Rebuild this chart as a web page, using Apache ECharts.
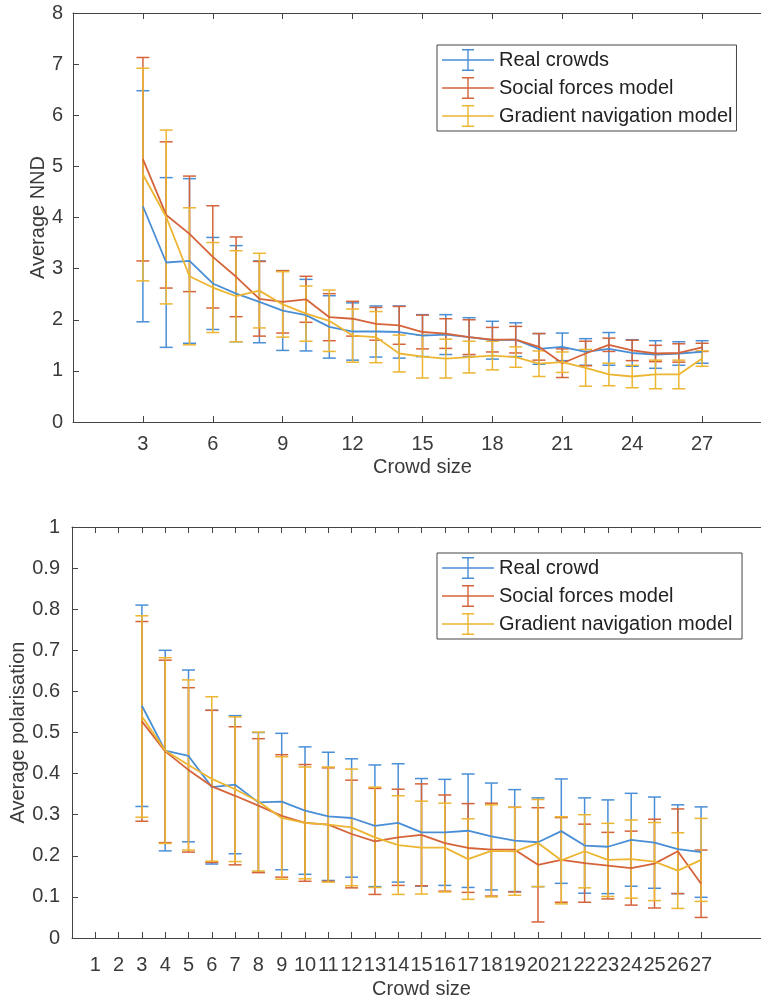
<!DOCTYPE html>
<html>
<head>
<meta charset="utf-8">
<script src="https://cdn.jsdelivr.net/npm/echarts@6/dist/echarts.min.js"></script>
<style>
  html, body { margin: 0; padding: 0; background: #fff; }
  #main { width: 761px; height: 1001px; }
</style>
</head>
<body>
<div id="main"></div>
<script>
// crowd sizes on the x axis
var crowdSize = [3, 4, 5, 6, 7, 8, 9, 10, 11, 12, 13, 14, 15, 16, 17, 18, 19, 20, 21, 22, 23, 24, 25, 26, 27];
var nndTicks = [3, 6, 9, 12, 15, 18, 21, 24, 27];
var polTicks = [1, 2, 3, 4, 5, 6, 7, 8, 9, 10, 11, 12, 13, 14, 15, 16, 17, 18, 19, 20, 21, 22, 23, 24, 25, 26, 27];

// Average NND (mean +- error)
var nndReal = [4.22, 3.12, 3.15, 2.71, 2.51, 2.35, 2.18, 2.09, 1.86, 1.77, 1.77, 1.76, 1.69, 1.71, 1.66, 1.60, 1.61, 1.43, 1.47, 1.37, 1.43, 1.35, 1.32, 1.34, 1.37];
var nndRealErr = [2.26, 1.66, 1.61, 0.90, 0.94, 0.80, 0.78, 0.70, 0.61, 0.56, 0.50, 0.51, 0.41, 0.39, 0.38, 0.37, 0.33, 0.30, 0.27, 0.26, 0.32, 0.26, 0.27, 0.23, 0.22];
var nndSocial = [5.14, 4.05, 3.68, 3.23, 2.84, 2.41, 2.35, 2.40, 2.05, 2.02, 1.92, 1.89, 1.76, 1.73, 1.66, 1.61, 1.61, 1.47, 1.15, 1.34, 1.51, 1.40, 1.34, 1.35, 1.46];
var nndSocialErr = [1.99, 1.43, 1.13, 1.00, 0.78, 0.73, 0.61, 0.45, 0.46, 0.34, 0.32, 0.37, 0.33, 0.29, 0.34, 0.24, 0.26, 0.26, 0.28, 0.24, 0.13, 0.20, 0.16, 0.18, 0.08];
var nndGradient = [4.84, 4.01, 2.85, 2.63, 2.46, 2.57, 2.30, 2.12, 1.98, 1.69, 1.66, 1.34, 1.28, 1.24, 1.27, 1.30, 1.27, 1.14, 1.17, 1.06, 0.93, 0.89, 0.93, 0.93, 1.24];
var nndGradientErr = [2.08, 1.70, 1.34, 0.88, 0.89, 0.73, 0.64, 0.54, 0.60, 0.52, 0.50, 0.36, 0.42, 0.38, 0.31, 0.28, 0.20, 0.25, 0.20, 0.36, 0.22, 0.22, 0.28, 0.28, 0.15];

// Average polarisation (mean +- error)
var polReal = [0.565, 0.456, 0.443, 0.367, 0.373, 0.330, 0.332, 0.310, 0.296, 0.292, 0.273, 0.280, 0.257, 0.257, 0.261, 0.247, 0.237, 0.233, 0.260, 0.225, 0.222, 0.239, 0.232, 0.216, 0.209];
var polRealErr = [0.245, 0.244, 0.209, 0.187, 0.168, 0.170, 0.166, 0.155, 0.156, 0.144, 0.148, 0.144, 0.131, 0.129, 0.138, 0.130, 0.124, 0.108, 0.127, 0.116, 0.114, 0.113, 0.111, 0.108, 0.110];
var polSocial = [0.527, 0.454, 0.409, 0.369, 0.346, 0.322, 0.297, 0.280, 0.276, 0.253, 0.235, 0.245, 0.251, 0.231, 0.219, 0.215, 0.215, 0.178, 0.190, 0.182, 0.176, 0.170, 0.181, 0.211, 0.132];
var polSocialErr = [0.243, 0.222, 0.200, 0.185, 0.168, 0.163, 0.149, 0.142, 0.138, 0.131, 0.129, 0.117, 0.124, 0.117, 0.108, 0.113, 0.103, 0.139, 0.103, 0.095, 0.081, 0.090, 0.108, 0.103, 0.082];
var polGradient = [0.539, 0.456, 0.421, 0.387, 0.362, 0.332, 0.292, 0.280, 0.276, 0.269, 0.245, 0.226, 0.220, 0.220, 0.192, 0.212, 0.211, 0.231, 0.189, 0.211, 0.190, 0.192, 0.186, 0.164, 0.190];
var polGradientErr = [0.245, 0.226, 0.207, 0.200, 0.176, 0.169, 0.149, 0.136, 0.140, 0.142, 0.122, 0.120, 0.113, 0.108, 0.098, 0.112, 0.107, 0.106, 0.106, 0.089, 0.089, 0.095, 0.095, 0.092, 0.101];

var cBlue = '#4a8fd6';
var cRed = '#d5643a';
var cYellow = '#ecb532';
var axisCol = '#444';
var textCol = '#3a3a3a';
var font = '"Liberation Sans", Arial, sans-serif';

var chart = echarts.init(document.getElementById('main'), null, { renderer: 'canvas' });

function pairs(mean) {
  var out = [];
  for (var i = 0; i < crowdSize.length; i++) out.push([crowdSize[i], mean[i]]);
  return out;
}
function bars(mean, err) {
  var out = [];
  for (var i = 0; i < crowdSize.length; i++) out.push([crowdSize[i], mean[i] - err[i], mean[i] + err[i]]);
  return out;
}

// vertical error bar with caps
function renderErrorBar(params, api) {
  var x = api.value(0);
  var lo = api.coord([x, api.value(1)]);
  var hi = api.coord([x, api.value(2)]);
  var hw = 6.5;
  var st = { stroke: api.visual('color'), lineWidth: 1.5 };
  return {
    type: 'group',
    children: [
      { type: 'line', shape: { x1: lo[0], y1: lo[1], x2: hi[0], y2: hi[1] }, style: st },
      { type: 'line', shape: { x1: hi[0] - hw, y1: hi[1], x2: hi[0] + hw, y2: hi[1] }, style: st },
      { type: 'line', shape: { x1: lo[0] - hw, y1: lo[1], x2: lo[0] + hw, y2: lo[1] }, style: st }
    ]
  };
}

function lineSeries(name, data, color, gi) {
  return {
    name: name, type: 'line', data: data, xAxisIndex: gi * 2, yAxisIndex: gi,
    showSymbol: false, symbol: 'none', silent: true, animation: false,
    lineStyle: { color: color, width: 1.8 }, itemStyle: { color: color }, z: 3
  };
}
function barSeries(data, color, gi) {
  return {
    type: 'custom', data: data, xAxisIndex: gi * 2, yAxisIndex: gi,
    renderItem: renderErrorBar, encode: { x: 0, y: [1, 2] },
    itemStyle: { color: color }, silent: true, animation: false, z: 3
  };
}

// legend icon: line with an error bar in the middle (52 x 22)
var legendIcon = 'path://M0,10.3 L52,10.3 L52,11.7 L0,11.7 Z M25.3,0 L26.7,0 L26.7,22 L25.3,22 Z ' +
  'M20,0 L32,0 L32,1.4 L20,1.4 Z M20,20.6 L32,20.6 L32,22 L20,22 Z';

function legendFor(names, top) {
  return {
    show: true, orient: 'vertical', left: 437, top: top,
    backgroundColor: '#fff', borderColor: axisCol, borderWidth: 1,
    padding: [4, 4, 4, 5], itemGap: 6, itemWidth: 52, itemHeight: 22,
    symbolKeepAspect: false,
    textStyle: { fontFamily: font, fontSize: 20, color: '#222' },
    data: names.map(function (n) { return { name: n, icon: legendIcon }; }),
    selectedMode: false
  };
}

function xBottom(gi, ticks, labelMargin, nameGap) {
  return {
    type: 'value', gridIndex: gi, min: 0, max: 30, position: 'bottom',
    name: 'Crowd size', nameLocation: 'middle', nameGap: nameGap,
    nameTextStyle: { fontFamily: font, fontSize: 20, color: textCol },
    axisLine: { show: true, onZero: false, lineStyle: { color: axisCol, width: 1 } },
    axisTick: { show: true, inside: true, length: 6, customValues: ticks, lineStyle: { color: axisCol } },
    axisLabel: { show: true, customValues: ticks, margin: labelMargin, fontFamily: font, fontSize: 20, color: textCol },
    splitLine: { show: false }
  };
}
function xTop(gi, ticks) {
  return {
    type: 'value', gridIndex: gi, min: 0, max: 30, position: 'top',
    axisLine: { show: true, onZero: false, lineStyle: { color: axisCol, width: 1 } },
    axisTick: { show: true, inside: true, length: 6, customValues: ticks, lineStyle: { color: axisCol } },
    axisLabel: { show: false }, splitLine: { show: false }
  };
}

var option = {
  backgroundColor: '#fff',
  animation: false,
  grid: [
    { left: 73, top: 13, width: 699, height: 409, outerBoundsMode: 'none', containLabel: false },
    { left: 72, top: 527, width: 699, height: 411, outerBoundsMode: 'none', containLabel: false }
  ],
  xAxis: [
    xBottom(0, nndTicks, 12, 35),
    xTop(0, nndTicks),
    xBottom(1, polTicks, 17, 41),
    xTop(1, polTicks)
  ],
  yAxis: [
    {
      type: 'value', gridIndex: 0, min: 0, max: 8, interval: 1,
      name: 'Average NND', nameLocation: 'middle', nameGap: 25, nameMoveOverlap: false,
      nameTextStyle: { fontFamily: font, fontSize: 20, color: textCol },
      axisLine: { show: true, lineStyle: { color: axisCol, width: 1 } },
      axisTick: { show: true, inside: true, length: 6, lineStyle: { color: axisCol } },
      axisLabel: { margin: 10, fontFamily: font, fontSize: 20, color: textCol },
      splitLine: { show: false }
    },
    {
      type: 'value', gridIndex: 1, min: 0, max: 1, interval: 0.1,
      name: 'Average polarisation', nameLocation: 'middle', nameGap: 44, nameMoveOverlap: false,
      nameTextStyle: { fontFamily: font, fontSize: 20, color: textCol },
      axisLine: { show: true, lineStyle: { color: axisCol, width: 1 } },
      axisTick: { show: true, inside: true, length: 6, lineStyle: { color: axisCol } },
      axisLabel: { margin: 12, fontFamily: font, fontSize: 20, color: textCol,
        formatter: function (v) { return String(+v.toFixed(1)); } },
      splitLine: { show: false }
    }
  ],
  legend: [
    legendFor(['Real crowds', 'Social forces model', 'Gradient navigation model'], 45),
    legendFor(['Real crowd', 'Social forces model ', 'Gradient navigation model '], 553)
  ],
  series: [
    barSeries(bars(nndReal, nndRealErr), cBlue, 0),
    lineSeries('Real crowds', pairs(nndReal), cBlue, 0),
    barSeries(bars(nndSocial, nndSocialErr), cRed, 0),
    lineSeries('Social forces model', pairs(nndSocial), cRed, 0),
    barSeries(bars(nndGradient, nndGradientErr), cYellow, 0),
    lineSeries('Gradient navigation model', pairs(nndGradient), cYellow, 0),

    barSeries(bars(polReal, polRealErr), cBlue, 1),
    lineSeries('Real crowd', pairs(polReal), cBlue, 1),
    barSeries(bars(polSocial, polSocialErr), cRed, 1),
    lineSeries('Social forces model ', pairs(polSocial), cRed, 1),
    barSeries(bars(polGradient, polGradientErr), cYellow, 1),
    lineSeries('Gradient navigation model ', pairs(polGradient), cYellow, 1)
  ]
};

chart.setOption(option);
</script>
</body>
</html>
